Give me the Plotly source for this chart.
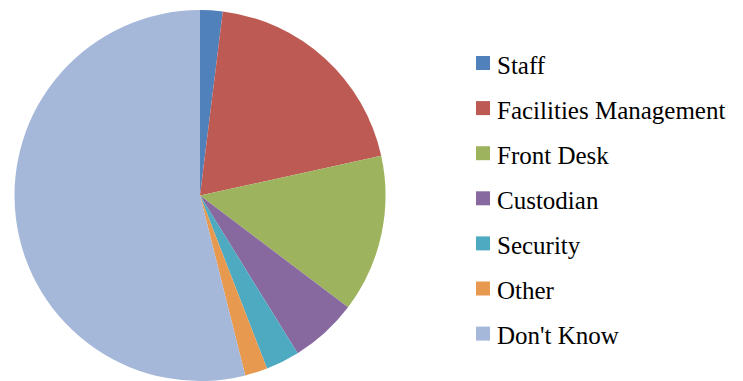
import plotly.graph_objects as go

# Responses by category
labels = ["Staff", "Facilities Management", "Front Desk", "Custodian",
          "Security", "Other", "Don't Know"]
counts = [2, 20, 14, 6, 3, 2, 55]
colors = ["#5081BB", "#BC5A53", "#9DB35E", "#8769A0", "#4DAAC1", "#E7994F", "#A5B8D9"]

W, H = 743, 381
SERIF = "Liberation Serif"

fig = go.Figure()
fig.add_trace(go.Pie(
    labels=labels,
    values=counts,
    sort=False,
    direction="clockwise",
    rotation=0,
    marker=dict(colors=colors, line=dict(width=0)),
    textinfo="none",
    hoverinfo="label+value+percent",
    showlegend=False,
    domain=dict(x=[14 / W, 386 / W], y=[0, 371 / H]),
))

# Legend: colour key squares with labels, stacked down the right side
key_x0, key_size = 476, 14
first_cy, step = 63, 45.1
shapes, annotations = [], []
for i, (lab, col) in enumerate(zip(labels, colors)):
    cy = first_cy + i * step
    shapes.append(dict(
        type="rect", xref="paper", yref="paper",
        x0=key_x0 / W, x1=(key_x0 + key_size) / W,
        y0=1 - (cy + key_size / 2) / H, y1=1 - (cy - key_size / 2) / H,
        fillcolor=col, line=dict(width=0),
    ))
    annotations.append(dict(
        text=f"<span style='color:#000000'>{lab}</span>",
        xref="paper", yref="paper",
        x=(key_x0 + key_size + 5) / W, y=1 - (cy + 2) / H,
        xanchor="left", yanchor="middle", showarrow=False,
        font=dict(family=SERIF, size=25),
    ))

fig.update_layout(
    width=W, height=H,
    margin=dict(l=0, r=0, t=0, b=0),
    paper_bgcolor="white",
    plot_bgcolor="white",
    shapes=shapes,
    annotations=annotations,
)

fig.write_html("out.html")
